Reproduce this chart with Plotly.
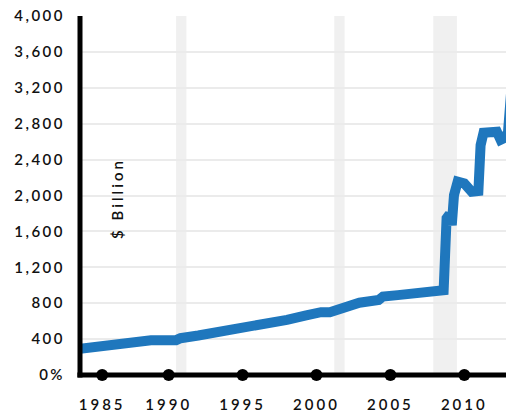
import plotly.graph_objects as go

# 연도(소수) / 대차대조표 규모 ($ Billion)
years = [1984.0, 1985.0, 1986.0, 1987.0, 1988.0, 1988.8, 1990.5, 1990.8, 1992.0, 1993.0,
         1994.0, 1995.0, 1996.0, 1997.0, 1998.0, 1999.3, 1999.75, 2000.0, 2000.3, 2000.9,
         2001.3, 2001.8, 2002.9, 2004.2, 2004.5, 2005.5, 2007.9, 2008.6, 2008.8, 2009.0,
         2009.15, 2009.3, 2009.55, 2010.0, 2010.5, 2010.8, 2010.95, 2011.1, 2011.3, 2012.2,
         2012.45, 2012.7, 2012.95, 2013.36]
values = [293, 312, 330, 350, 370, 388, 388, 410, 440, 468,
          495, 520, 540, 575, 615, 665, 680, 715, 700, 700,
          720, 750, 805, 835, 875, 890, 935, 945, 1746, 1790,
          1671, 2005, 2154, 2135, 2042, 2040, 2050, 2560, 2700, 2710,
          2620, 2640, 2700, 3560]

# 경기침체 구간
recession_start = [1990.5, 2001.2, 2007.9]
recession_end = [1991.2, 2001.9, 2009.5]

x_tick_vals = [1985.5, 1990, 1995, 2000, 2005, 2010]
x_tick_text = ["1985", "1990", "1995", "2000", "2005", "2010"]
y_tick_vals = [0, 400, 800, 1200, 1600, 2000, 2400, 2800, 3200, 3600, 4000]
y_tick_text = ["0%", "400", "800", "1,200", "1,600", "2,000", "2,400", "2,800", "3,200", "3,600", "4,000"]


def spaced(label, px):
    return f'<span style="letter-spacing:{px}px">{label}</span>'


fig = go.Figure()

for x0, x1 in zip(recession_start, recession_end):
    fig.add_shape(type="rect", xref="x", yref="paper", x0=x0, x1=x1, y0=0, y1=1,
                  fillcolor="#f0f0f0", line={"width": 0}, layer="below")

fig.add_trace(
    go.Scatter(
        x=years,
        y=values,
        mode="lines",
        line={"color": "#1f77bd", "width": 10},
        hoverinfo="skip",
    )
)

# 축 위의 눈금 점
fig.add_trace(
    go.Scatter(
        x=x_tick_vals,
        y=[0] * len(x_tick_vals),
        mode="markers",
        marker={"color": "black", "size": 12},
        cliponaxis=False,
        hoverinfo="skip",
    )
)

# 축선 (플롯 영역 가장자리에 중심을 맞춤)
fig.add_shape(type="line", xref="paper", yref="paper", x0=0, x1=0, y0=-0.007, y1=1,
              line={"color": "black", "width": 5}, layer="above")
fig.add_shape(type="line", xref="paper", yref="paper", x0=-0.006, x1=1, y0=0, y1=0,
              line={"color": "black", "width": 5}, layer="above")

fig.add_annotation(
    text=spaced("$ Billion", 3),
    x=0.085,
    y=0.493,
    xref="paper",
    yref="paper",
    xanchor="center",
    yanchor="middle",
    textangle=-90,
    showarrow=False,
    font={"family": "Lato", "size": 15, "color": "#111", "weight": 600},
)

# 페이지 body 여백(8px)을 감안한 크기/여백
fig.update_layout(
    width=506,
    height=410,
    margin={"l": 72, "r": 0, "t": 8, "b": 43},
    plot_bgcolor="white",
    paper_bgcolor="white",
    showlegend=False,
    font={"family": "Lato", "size": 15, "color": "#111"},
)

fig.update_xaxes(
    range=[1984.0, 2013.36],
    tickvals=x_tick_vals,
    ticktext=[spaced(t, 3) for t in x_tick_text],
    showgrid=False,
    zeroline=False,
    showline=False,
    ticks="",
    ticklabelstandoff=19,
    ticklabeloverflow="allow",
    tickfont={"weight": 600},
    automargin=False,
)

fig.update_yaxes(
    range=[0, 4000],
    tickvals=y_tick_vals,
    ticktext=[spaced(t, 2.5) for t in y_tick_text],
    showgrid=True,
    gridcolor="#ebebeb",
    gridwidth=2,
    zeroline=False,
    showline=False,
    ticks="",
    ticklabelstandoff=14,
    ticklabeloverflow="allow",
    tickfont={"weight": 600},
    automargin=False,
)

fig.write_html("out.html")
